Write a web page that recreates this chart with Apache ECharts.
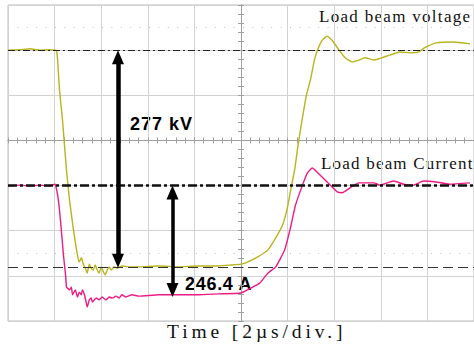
<!DOCTYPE html>
<html><head><meta charset="utf-8">
<script src="https://cdn.jsdelivr.net/npm/echarts@6/dist/echarts.min.js"></script>
<style>html,body{margin:0;padding:0;background:#fff}#c{width:474px;height:347px}</style>
</head><body><div id="c"></div>
<script>
// time axis in µs (2 µs/div), vertical axis in screen divisions
const timeMin = -10, timeMax = 10, timeStep = 2;
const divMin = -4, divMax = 3;

const voltage = [
 [-10,2.00],[-9.49,2.01],[-9.06,2.03],[-8.64,2.00],[-8.21,2.01],[-7.96,2.00],[-7.91,1.96],[-7.87,1.78],
 [-7.79,1.12],[-7.66,0.45],[-7.49,-0.66],[-7.36,-1.32],[-7.19,-1.98],[-7.02,-2.54],[-6.94,-2.69],[-6.85,-2.60],
 [-6.77,-2.74],[-6.68,-2.83],[-6.60,-2.94],[-6.51,-2.74],[-6.43,-2.83],[-6.34,-2.87],[-6.26,-2.76],[-6.17,-2.87],
 [-6.09,-2.94],[-6.00,-2.80],[-5.91,-2.91],[-5.83,-2.98],[-5.74,-2.87],[-5.66,-2.80],[-5.57,-2.87],[-5.45,-2.80],
 [-5.32,-2.83],[-5.11,-2.78],[-4.81,-2.80],[-4.38,-2.80],[-3.53,-2.78],[-2.68,-2.80],[-1.83,-2.78],[-0.98,-2.78],
 [-0.43,-2.76],[0.00,-2.74],[0.30,-2.69],[0.72,-2.58],[1.15,-2.43],[1.49,-2.16],[1.79,-1.87],[2.00,-1.47],
 [2.13,-1.10],[2.30,-0.66],[2.47,-0.03],[2.81,1.01],[2.98,1.34],[3.15,1.78],[3.28,2.00],[3.49,2.22],
 [3.70,2.31],[3.91,2.22],[4.21,2.00],[4.47,1.83],[4.77,1.74],[5.06,1.78],[5.32,1.83],[5.70,1.78],
 [6.04,1.83],[6.38,1.89],[6.81,1.96],[7.23,1.94],[7.62,1.96],[7.87,2.05],[8.38,2.16],[9.11,2.18],[9.83,2.14]
];
const current = [
 [-10,-1.01],[-9.49,-0.99],[-9.06,-1.01],[-8.64,-0.99],[-8.21,-1.01],[-8.00,-0.97],[-7.96,-0.99],[-7.87,-1.21],
 [-7.79,-1.54],[-7.70,-2.05],[-7.62,-2.54],[-7.53,-2.98],[-7.49,-3.25],[-7.45,-3.27],[-7.36,-3.31],[-7.28,-3.25],
 [-7.23,-3.42],[-7.11,-3.31],[-7.02,-3.47],[-6.94,-3.36],[-6.85,-3.42],[-6.81,-3.31],[-6.72,-3.42],[-6.64,-3.60],
 [-6.60,-3.69],[-6.51,-3.53],[-6.43,-3.49],[-6.38,-3.58],[-6.21,-3.49],[-6.09,-3.53],[-5.96,-3.47],[-5.79,-3.53],
 [-5.66,-3.47],[-5.53,-3.49],[-5.36,-3.45],[-5.23,-3.49],[-5.11,-3.42],[-4.94,-3.47],[-4.68,-3.42],[-4.38,-3.45],
 [-3.53,-3.42],[-2.68,-3.42],[-1.83,-3.42],[-0.98,-3.40],[0.00,-3.38],[0.43,-3.27],[0.81,-3.16],[1.15,-2.94],
 [1.49,-2.80],[1.87,-2.43],[2.13,-1.92],[2.34,-1.43],[2.64,-0.99],[2.85,-0.72],[3.06,-0.61],[3.40,-0.77],
 [3.83,-0.99],[4.13,-1.14],[4.34,-1.16],[4.68,-1.05],[5.06,-0.94],[5.70,-0.94],[5.96,-0.99],[6.55,-0.90],
 [6.98,-0.97],[7.40,-0.99],[7.83,-0.90],[8.38,-0.92],[8.94,-0.97],[9.83,-0.94]
];
const voltageRef = 2.0;
const currentRef = -1.0;
const flatTopRef = -2.8;
const dottedLevels = [2.5, -2.5];
const voltageArrow = [-5.28, 2.0, -2.82];   // time, top tip, bottom tip
const currentArrow = [-2.94, -1.0, -3.47];
const texts = {
  vTitle: 'Load beam voltage', iTitle: 'Load beam Current',
  vValue: '277 kV', iValue: '246.4 A', xTitle: 'Time [2\u00b5s/div.]'
};
const spacing = {};
spacing[texts.vTitle] = '1.3px'; spacing[texts.iTitle] = '1.2px';
spacing[texts.vValue] = '1px'; spacing[texts.iValue] = '0.7px'; spacing[texts.xTitle] = '3.9px';

const chart = echarts.init(document.getElementById('c'), null, {renderer: 'svg'});

const G = {left: 8, top: 5, width: 470, height: 316};
const headSize = [12, 14];
const pxPerDiv = G.height / (divMax - divMin);
const off = headSize[1] / 2 / pxPerDiv;
const axisGray = '#a0a0a0';
const serif = "'Liberation Serif', 'Times New Roman', serif";
const sans = "'Liberation Sans', Arial, sans-serif";

function centerAxis(isX, pos, split) {
  return {
    type: 'value', position: pos,
    min: isX ? timeMin : divMin, max: isX ? timeMax : divMax, interval: isX ? timeStep : 1,
    axisLine: {show: true, onZero: true, lineStyle: {color: axisGray, width: 1}},
    axisTick: {show: true, inside: true, length: 3, lineStyle: {color: axisGray}},
    minorTick: {show: true, splitNumber: 5, length: 3, lineStyle: {color: axisGray}},
    axisLabel: {show: false},
    splitLine: {show: split, lineStyle: {color: '#d2d2d2', width: 1}}
  };
}

chart.setOption({
  animation: false,
  backgroundColor: '#fff',
  grid: {left: G.left, top: G.top, width: G.width, height: G.height, show: true, borderColor: '#bdbdbd', borderWidth: 1, backgroundColor: 'transparent'},
  xAxis: [centerAxis(true, 'bottom', true), centerAxis(true, 'top', false)],
  yAxis: [centerAxis(false, 'left', true), centerAxis(false, 'right', false)],
  series: [
    {type: 'line', name: 'guides', data: [], silent: true,
     markLine: {silent: true, symbol: 'none', label: {show: false}, animation: false,
       data: dottedLevels.map(v => ({yAxis: v, lineStyle: {color: '#c4c4c4', width: 1, type: [1, 8.4]}}))}},
    {type: 'line', name: 'voltage', data: voltage, showSymbol: false, silent: true,
     lineStyle: {color: '#b9b31c', width: 1.4}, smooth: 0.15},
    {type: 'line', name: 'current', data: current, showSymbol: false, silent: true,
     lineStyle: {color: '#ec1b83', width: 1.4}, smooth: 0.15},
    {type: 'line', name: 'refs', data: [], silent: true,
     markLine: {silent: true, symbol: 'none', label: {show: false}, animation: false,
       data: [
         {yAxis: voltageRef, lineStyle: {color: '#222', width: 1, type: [7, 3, 2, 3]}},
         {yAxis: currentRef, lineStyle: {color: '#111', width: 2.5, type: [9, 3, 3, 3]}},
         {yAxis: flatTopRef, lineStyle: {color: '#333', width: 1, type: [10, 5]}}
       ]}},
    {type: 'line', name: 'arrows', data: [], silent: true,
     markLine: {silent: true, symbol: ['triangle', 'triangle'], symbolSize: headSize, label: {show: false}, animation: false,
       data: [
         [{coord: [voltageArrow[0], voltageArrow[1] - off], lineStyle: {color: '#000', width: 4.5, type: 'solid'}},
          {coord: [voltageArrow[0], voltageArrow[2] + off]}],
         [{coord: [currentArrow[0], currentArrow[1] - off], lineStyle: {color: '#000', width: 3.5, type: 'solid'}},
          {coord: [currentArrow[0], currentArrow[2] + off]}]
       ],
       itemStyle: {color: '#000'}}}
  ],
  graphic: [
    {type: 'text', left: 319, top: 8, silent: true, style: {text: texts.vTitle, font: '17px ' + serif, fill: '#111'}},
    {type: 'text', left: 321, top: 155, silent: true, style: {text: texts.iTitle, font: '17px ' + serif, fill: '#111'}},
    {type: 'text', left: 130, top: 115, silent: true, style: {text: texts.vValue, font: 'bold 18px ' + sans, fill: '#000'}},
    {type: 'text', left: 185, top: 275, silent: true, style: {text: texts.iValue, font: 'bold 18px ' + sans, fill: '#000'}},
    {type: 'text', left: 167, top: 321, silent: true, style: {text: texts.xTitle, font: '19.5px ' + serif, fill: '#111'}}
  ]
});

function applySpacing() {
  document.querySelectorAll('#c svg text').forEach(el => {
    const s = spacing[el.textContent];
    if (s) el.style.letterSpacing = s;
  });
}
applySpacing();
chart.on('finished', applySpacing);
setTimeout(applySpacing, 0);
</script></body></html>
